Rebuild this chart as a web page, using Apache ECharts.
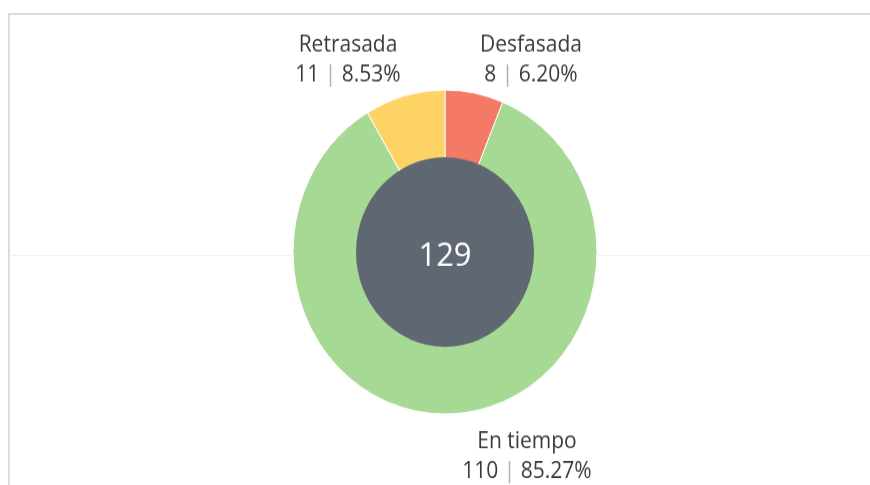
<!DOCTYPE html>
<html>
<head>
<meta charset="utf-8">
<script src="https://cdn.jsdelivr.net/npm/echarts@6/dist/echarts.min.js"></script>
<style>
  html, body { margin: 0; padding: 0; background: #fff; overflow: hidden; }
  #frame { position: absolute; left: 8px; top: 13px; width: 870px; height: 480px;
           border-left: 2px solid #dcdcdc; border-top: 2px solid #dcdcdc; }
  #line { position: absolute; left: 11px; top: 255px; width: 860px; height: 1px; background: #f1f1f1; }
  #chart { position: absolute; left: 0; top: 0; width: 870px; height: 485px;
           transform: scaleY(1.066); transform-origin: 0 252px; }
</style>
</head>
<body>
<div id="frame"></div>
<div id="line"></div>
<div id="chart"></div>
<script>
const categories = ['Desfasada', 'En tiempo', 'Retrasada'];
const values = [8, 110, 11];
const colors = ['#f47a66', '#a6d994', '#fdd365'];

const total = values.reduce((a, b) => a + b, 0);
const labelPos = { 'Desfasada': [531, 72], 'En tiempo': [527, 444], 'Retrasada': [348, 72] };

const chart = echarts.init(document.getElementById('chart'), null, { renderer: 'canvas' });
chart.setOption({
  animation: false,
  backgroundColor: 'transparent',
  series: [
    {
      type: 'pie',
      center: [445, 252],
      radius: [0, 89],
      silent: true,
      startAngle: 90,
      data: [{ value: total, name: 'total' }],
      itemStyle: { color: '#5f6772' },
      label: {
        show: true, position: 'center',
        formatter: String(total),
        color: '#ffffff', fontSize: 31, fontFamily: 'Open Sans'
      },
      labelLine: { show: false },
      labelLayout: () => ({ x: 445, y: 256, align: 'center', verticalAlign: 'middle' }),
      z: 3
    },
    {
      type: 'pie',
      center: [445, 252],
      radius: [88, 152],
      startAngle: 90,
      clockwise: true,
      data: categories.map((c, i) => ({ name: c, value: values[i], itemStyle: { color: colors[i] } })),
      itemStyle: { borderColor: '#ffffff', borderWidth: 1 },
      label: {
        show: true, position: 'outside',
        color: '#3a3a3a', fontSize: 21, fontFamily: 'Open Sans', lineHeight: 28, align: 'center',
        formatter: p => p.name + '\n' + p.value + ' {s||} ' + (p.value / total * 100).toFixed(2) + '%',
        rich: { s: { color: '#b0b0b0', fontSize: 21, fontFamily: 'Open Sans', lineHeight: 28 } }
      },
      labelLine: { show: false },
      labelLayout: p => {
        const pos = labelPos[categories[p.dataIndex]];
        return { x: pos[0], y: pos[1], align: 'center', verticalAlign: 'middle' };
      },
      z: 2
    }
  ]
});
</script>
</body>
</html>
